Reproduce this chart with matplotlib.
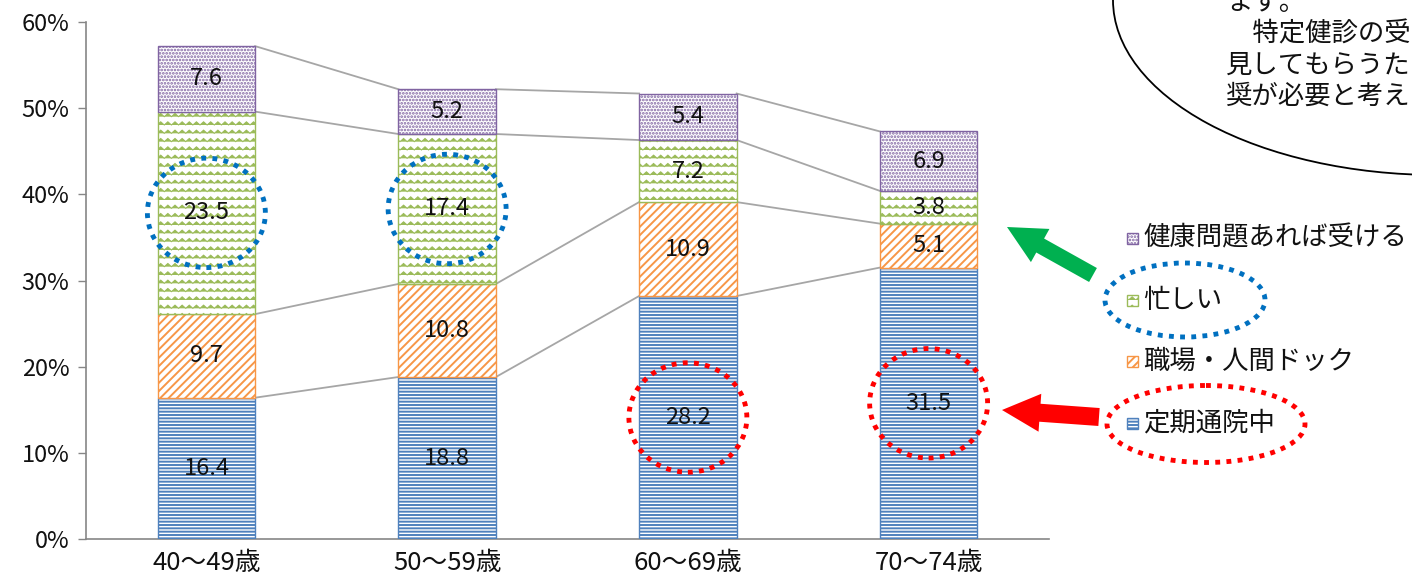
import numpy as np
import warnings
import matplotlib
matplotlib.use('Agg')
import matplotlib.pyplot as plt
import matplotlib.hatch as mhatch
from matplotlib.path import Path
from matplotlib.patches import Ellipse, FancyArrow, Rectangle

warnings.filterwarnings('ignore')
plt.rcParams['font.family'] = ['Noto Sans CJK JP', 'DejaVu Sans']

# ---------------- data ----------------
categories = ['40〜49歳', '50〜59歳', '60〜69歳', '70〜74歳']
series_names = ['定期通院中', '職場・人間ドック', '忙しい', '健康問題あれば受ける']
teiki_tsuin = [16.4, 18.8, 28.2, 31.5]
shokuba_dock = [9.7, 10.8, 10.9, 5.1]
isogashii = [23.5, 17.4, 7.2, 3.8]
kenko_mondai = [7.6, 5.2, 5.4, 6.9]
yticks = [0, 10, 20, 30, 40, 50, 60]
ytick_labels = ['0%', '10%', '20%', '30%', '40%', '50%', '60%']
bubble_lines = ['ます。', '\u3000特定健診の受', '見してもらうた', '奨が必要と考え']

# highlighted (series index, category index)
blue_marks = [(2, 0), (2, 1)]
red_marks = [(0, 2), (0, 3)]

colors = ['#4F81BD', '#F79646', '#9BBB59', '#8064A2']
hatches = ['-----', '////', 'zz', '.....']
hatch_lw = [1.4, 1.4, 0.75, 1.3]


# ---------------- custom zig-zag hatch ----------------
class ZigZagHatch(mhatch.HatchPatternBase):
    teeth = 14
    amp = 0.032

    def __init__(self, hatch, density):
        self.num_lines = int(hatch.count('z') * density)
        self.n = 2 * self.teeth + 1
        self.num_vertices = self.num_lines * self.n

    def set_vertices_and_codes(self, vertices, codes):
        n = self.n
        xs = np.linspace(0, 1, n)
        off = np.where(np.arange(n) % 2 == 0, 0.0, self.amp)
        steps = np.linspace(0, 1, self.num_lines, endpoint=False)
        for i, s in enumerate(steps):
            vertices[i * n:(i + 1) * n, 0] = xs
            vertices[i * n:(i + 1) * n, 1] = s + off
            codes[i * n] = Path.MOVETO
            codes[i * n + 1:(i + 1) * n] = Path.LINETO


mhatch._hatch_types.append(ZigZagHatch)

# ---------------- figure ----------------
W, H = 1412, 580
fig = plt.figure(figsize=(W / 100, H / 100), dpi=100)
ax = fig.add_axes([86 / W, 41 / H, (1049 - 86) / W, (539 - 22) / H])

series = [teiki_tsuin, shokuba_dock, isogashii, kenko_mondai]
x = np.arange(len(categories))
bw = 0.405
bottom = np.zeros(len(categories))
cums = []
seg_centers = []
for k, vals in enumerate(series):
    vals = np.array(vals)
    with plt.rc_context({'hatch.linewidth': hatch_lw[k]}):
        bars = ax.bar(x, vals, bw, bottom=bottom, facecolor='white',
                      edgecolor=colors[k], linewidth=1.0, hatch=hatches[k],
                      zorder=3)
    for b in bars:
        if hasattr(b, 'set_hatch_linewidth'):
            b.set_hatch_linewidth(hatch_lw[k])
    centers = bottom + vals / 2
    seg_centers.append(centers)
    for xi, yc, v in zip(x, centers, vals):
        ax.text(xi, yc, f'{v:.1f}', ha='center', va='center', fontsize=17,
                color='#111111', zorder=5)
    bottom = bottom + vals
    cums.append(bottom.copy())

# connector lines
for c in cums:
    for i in range(len(categories) - 1):
        ax.plot([x[i] + bw / 2, x[i + 1] - bw / 2], [c[i], c[i + 1]],
                color='#A6A6A6', lw=1.3, zorder=2)

ax.set_xlim(-0.5, 3.5)
ax.set_ylim(0, 60)
ax.set_yticks(yticks)
ax.set_yticklabels(ytick_labels, fontsize=17, color='#111111')
ax.set_xticks(x)
ax.set_xticklabels(categories, fontsize=18.5, color='#111111')
ax.tick_params(axis='x', length=0, pad=8)
ax.tick_params(axis='y', length=6, color='#868686', width=1, pad=6)
for s in ['top', 'right']:
    ax.spines[s].set_visible(False)
for s in ['left', 'bottom']:
    ax.spines[s].set_color('#868686')
    ax.spines[s].set_linewidth(1.2)

# dotted ellipses around values
dot_style = (0, (1, 1.3))
for (si, ci), col in [(m, '#0070C0') for m in blue_marks] + [(m, '#FF0000') for m in red_marks]:
    e = Ellipse((x[ci], seg_centers[si][ci]), 0.49, 12.7, fill=False,
                edgecolor=col, lw=3.5, linestyle=dot_style, zorder=6,
                clip_on=False)
    ax.add_patch(e)

# ---------------- overlay (pixel coordinates) ----------------
ov = fig.add_axes([0, 0, 1, 1], zorder=10)
ov.set_xlim(0, W)
ov.set_ylim(H, 0)
ov.axis('off')
ov.patch.set_alpha(0)

# speech bubble
ov.add_patch(Ellipse((1438, 0), 650, 350, fill=False, edgecolor='black',
                     lw=1.3))
for i, line in enumerate(bubble_lines):
    ov.text(1226, 2 + 31.5 * i, line, fontsize=19, ha='left', va='center',
            color='#111111')

# legend (reverse order)
leg_y = [238, 300, 361, 423]
for j, k in enumerate(range(len(series_names) - 1, -1, -1)):
    y = leg_y[j]
    with plt.rc_context({'hatch.linewidth': hatch_lw[k]}):
        r = Rectangle((1127, y - 5.5), 11, 11, facecolor='white',
                      edgecolor=colors[k], lw=1.0, hatch=hatches[k])
    if hasattr(r, 'set_hatch_linewidth'):
        r.set_hatch_linewidth(hatch_lw[k])
    ov.add_patch(r)
    ov.text(1143, y, series_names[k], fontsize=19, ha='left',
            va='center', color='#111111')

# legend highlight ellipses
ov.add_patch(Ellipse((1185, 300), 160, 74, fill=False, edgecolor='#0070C0',
                     lw=3.5, linestyle=dot_style))
ov.add_patch(Ellipse((1206, 424), 198, 77, fill=False, edgecolor='#FF0000',
                     lw=3.5, linestyle=dot_style))

# arrows
ov.add_patch(FancyArrow(1093, 275, 1007 - 1093, 227 - 275, width=16,
                        head_width=38, head_length=38,
                        length_includes_head=True, color='#00B050', lw=0))
ov.add_patch(FancyArrow(1099, 417, 1002 - 1099, 410 - 417, width=18,
                        head_width=38, head_length=38,
                        length_includes_head=True, color='#FF0000', lw=0))

fig.savefig('out.png', dpi=100)
